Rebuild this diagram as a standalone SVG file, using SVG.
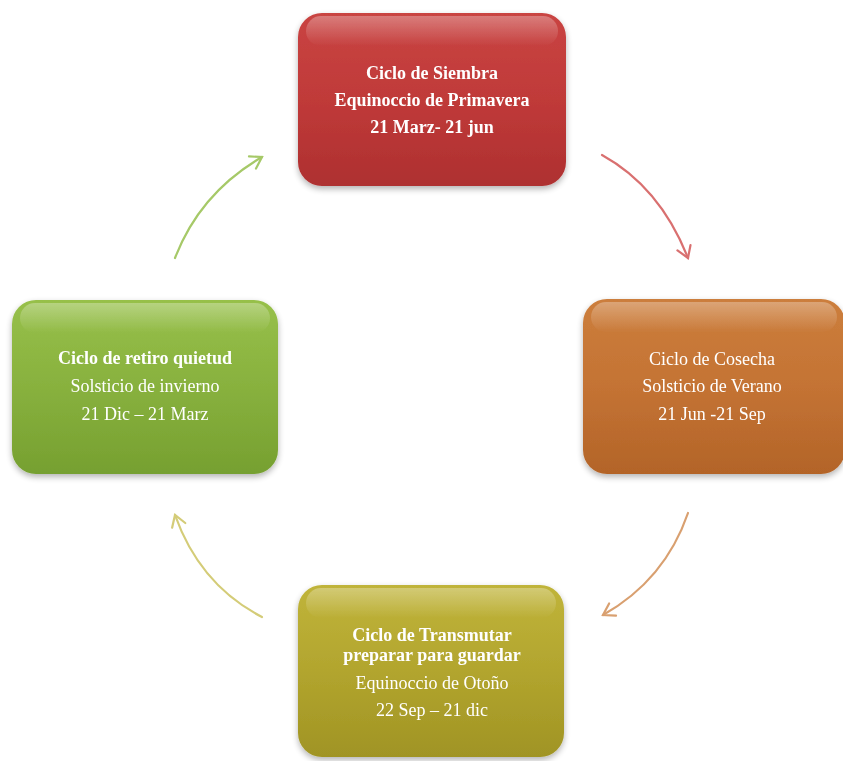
<svg xmlns="http://www.w3.org/2000/svg" width="843" height="761" viewBox="0 0 843 761">
<defs>
<linearGradient id="gRed" x1="0" y1="0" x2="0" y2="1"><stop offset="0" stop-color="#C94442"/><stop offset="0.5" stop-color="#C03A39"/><stop offset="1" stop-color="#AE3030"/></linearGradient>
<linearGradient id="gOrange" x1="0" y1="0" x2="0" y2="1"><stop offset="0" stop-color="#CC7E3C"/><stop offset="0.5" stop-color="#C47334"/><stop offset="1" stop-color="#B36428"/></linearGradient>
<linearGradient id="gGreen" x1="0" y1="0" x2="0" y2="1"><stop offset="0" stop-color="#97C04A"/><stop offset="0.5" stop-color="#88B13E"/><stop offset="1" stop-color="#76A030"/></linearGradient>
<linearGradient id="gYellow" x1="0" y1="0" x2="0" y2="1"><stop offset="0" stop-color="#C0B43A"/><stop offset="0.5" stop-color="#B2A52E"/><stop offset="1" stop-color="#A09424"/></linearGradient>
<linearGradient id="gloss" x1="0" y1="0" x2="0" y2="1"><stop offset="0" stop-color="#fff" stop-opacity="0.3"/><stop offset="1" stop-color="#fff" stop-opacity="0"/></linearGradient>
<filter id="sh" x="-10%" y="-10%" width="120%" height="125%"><feGaussianBlur in="SourceAlpha" stdDeviation="3"/><feOffset dx="0" dy="3"/><feComponentTransfer><feFuncA type="linear" slope="0.3"/></feComponentTransfer><feMerge><feMergeNode/><feMergeNode in="SourceGraphic"/></feMerge></filter>
<marker id="mRed" markerWidth="18" markerHeight="18" refX="13" refY="9" orient="auto" markerUnits="userSpaceOnUse"><path d="M2,2 L13,9 L2,16" fill="none" stroke="#D97070" stroke-width="2.2" stroke-linecap="round"/></marker>
<marker id="mOrange" markerWidth="18" markerHeight="18" refX="13" refY="9" orient="auto" markerUnits="userSpaceOnUse"><path d="M2,2 L13,9 L2,16" fill="none" stroke="#D9A070" stroke-width="2.2" stroke-linecap="round"/></marker>
<marker id="mGreen" markerWidth="18" markerHeight="18" refX="13" refY="9" orient="auto" markerUnits="userSpaceOnUse"><path d="M2,2 L13,9 L2,16" fill="none" stroke="#A6C968" stroke-width="2.2" stroke-linecap="round"/></marker>
<marker id="mYellow" markerWidth="18" markerHeight="18" refX="13" refY="9" orient="auto" markerUnits="userSpaceOnUse"><path d="M2,2 L13,9 L2,16" fill="none" stroke="#D4CC78" stroke-width="2.2" stroke-linecap="round"/></marker>
</defs>
<style>
.t{font-family:"Liberation Serif","Times New Roman",serif;font-size:18px;fill:#fff;text-anchor:middle}
.b{font-weight:bold}
.c{fill:none;stroke-width:2.2;stroke-linecap:round}
</style>
<rect width="843" height="761" fill="#fff"/>
<g id="connectors">
<path class="c" d="M602,155 Q660,187 688,258" stroke="#D97070" marker-end="url(#mRed)"/>
<path class="c" d="M688,513 Q665,580 603,615" stroke="#D9A070" marker-end="url(#mOrange)"/>
<path class="c" d="M262,617 Q200,585 175,515" stroke="#D4CC78" marker-end="url(#mYellow)"/>
<path class="c" d="M175,258 Q200,193 262,157" stroke="#A6C968" marker-end="url(#mGreen)"/>
</g>
<g id="node-siembra" filter="url(#sh)">
<rect x="298" y="13" width="268" height="173" rx="24" fill="url(#gRed)"/>
<rect x="306" y="16" width="252" height="30" rx="15" fill="url(#gloss)"/>
<text class="t b" x="432" y="79">Ciclo de Siembra</text>
<text class="t b" x="432" y="106">Equinoccio de Primavera</text>
<text class="t b" x="432" y="133">21 Marz- 21 jun</text>
</g>
<g id="node-cosecha" filter="url(#sh)">
<rect x="583" y="299" width="262" height="175" rx="24" fill="url(#gOrange)"/>
<rect x="591" y="302" width="246" height="30" rx="15" fill="url(#gloss)"/>
<text class="t" x="712" y="365">Ciclo de Cosecha</text>
<text class="t" x="712" y="392">Solsticio de Verano</text>
<text class="t" x="712" y="420">21 Jun -21 Sep</text>
</g>
<g id="node-quietud" filter="url(#sh)">
<rect x="12" y="300" width="266" height="174" rx="24" fill="url(#gGreen)"/>
<rect x="20" y="303" width="250" height="30" rx="15" fill="url(#gloss)"/>
<text class="t b" x="145" y="364">Ciclo de retiro quietud</text>
<text class="t" x="145" y="392">Solsticio de invierno</text>
<text class="t" x="145" y="420">21 Dic – 21 Marz</text>
</g>
<g id="node-transmutar" filter="url(#sh)">
<rect x="298" y="585" width="266" height="172" rx="24" fill="url(#gYellow)"/>
<rect x="306" y="588" width="250" height="30" rx="15" fill="url(#gloss)"/>
<text class="t b" x="432" y="641">Ciclo de Transmutar</text>
<text class="t b" x="432" y="661">preparar para guardar</text>
<text class="t" x="432" y="689">Equinoccio de Otoño</text>
<text class="t" x="432" y="716">22 Sep – 21 dic</text>
</g>
</svg>
